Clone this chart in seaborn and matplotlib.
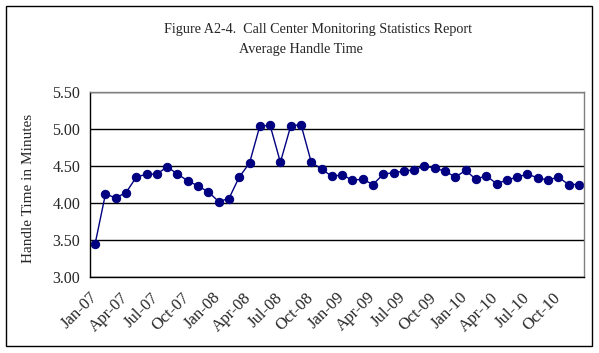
import matplotlib
matplotlib.use("Agg")
import matplotlib.pyplot as plt
import matplotlib.transforms as mtransforms
import seaborn as sns
import pandas as pd
import numpy as np
from matplotlib.patches import Rectangle

months = [f"{m}-{y:02d}" for y in range(7, 11) for m in
          ["Jan", "Feb", "Mar", "Apr", "May", "Jun", "Jul", "Aug", "Sep", "Oct", "Nov", "Dec"]]
handle_time = [3.45, 4.12, 4.07, 4.14, 4.35, 4.39, 4.39, 4.49, 4.39, 4.30, 4.23, 4.15,
               4.02, 4.06, 4.35, 4.54, 5.04, 5.05, 4.55, 5.04, 5.06, 4.55, 4.46, 4.36,
               4.38, 4.31, 4.32, 4.25, 4.39, 4.41, 4.43, 4.45, 4.50, 4.47, 4.43, 4.35,
               4.44, 4.32, 4.37, 4.26, 4.31, 4.35, 4.39, 4.34, 4.31, 4.35, 4.25, 4.25]
y_ticks = [3.00, 3.50, 4.00, 4.50, 5.00, 5.50]
title_lines = ["Figure A2-4.  Call Center Monitoring Statistics Report", "Average Handle Time"]
y_label = "Handle Time in Minutes"

sns.set_style("white")
plt.rcParams['font.family'] = ['Liberation Serif', 'DejaVu Serif']

df = pd.DataFrame({"idx": np.arange(len(months)), "month": months, "value": handle_time})

W, H = 599, 353
fig = plt.figure(figsize=(W / 100, H / 100), dpi=100)
fig.patch.set_facecolor("white")
ax = fig.add_axes([90 / W, 1 - 277 / H, (584 - 90) / W, (277 - 92) / H])

sns.lineplot(data=df, x="idx", y="value", ax=ax, color="#000080", linewidth=1.0,
             marker="o", markersize=6, markeredgecolor="#000080", markerfacecolor="#000080")

n = len(months)
ax.set_ylim(3.0, 5.5)
ax.set_xlim(-0.5, n - 0.5)
ax.set_yticks(y_ticks)
ax.set_yticklabels([f"{v:.2f}" for v in y_ticks], fontsize=11.5)
ax.yaxis.grid(True, color="black", linewidth=1.0)
ax.set_axisbelow(True)

# boundary ticks on main axis: every month inward, every quarter crossing
ax.set_xticks(np.arange(-0.5, n, 3))
ax.set_xticklabels([])
ax.set_xticks(np.arange(-0.5, n, 1), minor=True)
ax.tick_params(axis="x", which="major", direction="inout", length=8, width=1, color="black")
ax.tick_params(axis="x", which="minor", direction="in", length=4, width=1, color="black")
ax.tick_params(axis="y", which="major", direction="inout", length=8, width=1, color="black", pad=3)

# labels at category centres
sec = ax.secondary_xaxis("bottom")
label_idx = list(range(0, n, 3))
sec.set_xticks(label_idx)
sec.set_xticklabels([months[i] for i in label_idx], rotation=45, ha="right",
                    rotation_mode="anchor", fontsize=12)
sec.tick_params(axis="x", length=0, pad=9)
sec.spines["bottom"].set_visible(False)
offset = mtransforms.ScaledTranslation(-6 / 100, 0, fig.dpi_scale_trans)
for lbl in sec.get_xticklabels():
    lbl.set_transform(lbl.get_transform() + offset)

ax.set_xlabel("")
ax.set_ylabel(y_label, fontsize=11)
ax.yaxis.set_label_coords((35 - 90) / (584 - 90), 0.48)

for side in ["top", "right"]:
    ax.spines[side].set_color("#808080")
    ax.spines[side].set_linewidth(1.0)
for side in ["left", "bottom"]:
    ax.spines[side].set_color("black")
    ax.spines[side].set_linewidth(1.0)

fig.text(318 / W, 1 - 29 / H, title_lines[0], ha="center", va="center", fontsize=10.2)
fig.text(301 / W, 1 - 49 / H, title_lines[1], ha="center", va="center", fontsize=10.2)

fig.patches.append(Rectangle((6 / W, 1 - 346 / H), (592 - 6) / W, (346 - 6) / H,
                             transform=fig.transFigure, fill=False, edgecolor="black",
                             linewidth=1.0, zorder=0))

fig.savefig("out.png", dpi=100, facecolor="white")
